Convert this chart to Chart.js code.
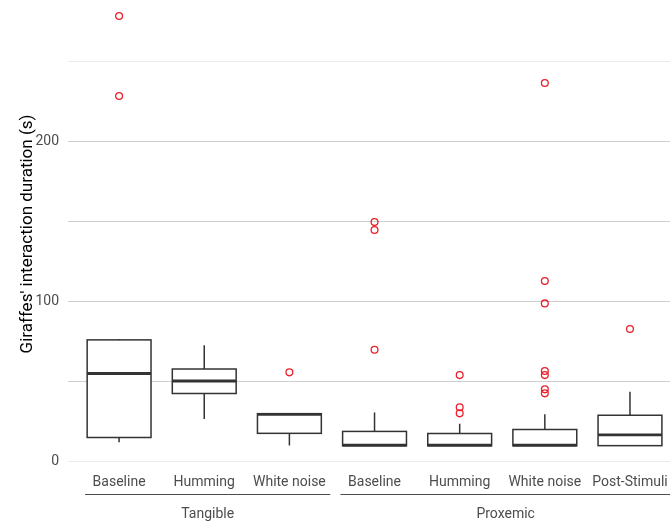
<!DOCTYPE html>
<html>
<head>
<meta charset="utf-8">
<script src="https://cdn.jsdelivr.net/npm/chart.js@4.4.1/dist/chart.umd.min.js"></script>
<style>
  html, body { margin: 0; padding: 0; background: #fff; }
  canvas { display: block; }
</style>
</head>
<body>
<canvas id="chart" width="670" height="525"></canvas>
<script>
// カテゴリとグループ
const categories = ['Baseline', 'Humming', 'White noise', 'Baseline', 'Humming', 'White noise', 'Post-Stimuli'];
const groupLabels = ['Tangible', 'Proxemic'];
const groupFirst = [0, 3];
const groupLast = [2, 6];

// 箱ひげ図の値
const whiskerLow = [12, 26.5, 10, 9.8, 9.8, 9.8, 9.9];
const q1 = [15, 42.5, 17.6, 9.8, 9.8, 9.8, 9.9];
const median = [55, 50.3, 29.5, 10.2, 10.2, 10.2, 16.7];
const q3 = [76, 57.8, 29.9, 18.8, 17.5, 20, 28.9];
const whiskerHigh = [76.5, 72.6, 29.9, 30.7, 23.6, 29.5, 43.6];
const outliers = [
  [228.4, 278.4],
  [],
  [55.7],
  [69.8, 144.7, 149.6],
  [30.1, 33.9, 54],
  [42.6, 45.1, 54, 56.6, 98.8, 112.8, 236.5],
  [82.8]
];

// 軸の目盛り
const yTicks = [0, 50, 100, 150, 200, 250];
const yTickLabels = ['0', '', '100', '', '200', ''];

const FONT = 'Roboto, "Liberation Sans", sans-serif';
const TEXT_GRAY = '#4d4d4d';

const outlierPoints = outliers.flatMap((vals, i) => vals.map(v => ({ x: i, y: v })));

// 箱とひげを描くプラグイン
const boxPlugin = {
  id: 'boxes',
  beforeDatasetsDraw(chart) {
    const { ctx, scales: { x, y } } = chart;
    const half = 0.375;
    ctx.save();
    ctx.strokeStyle = '#333333';
    categories.forEach((_, i) => {
      const xl = x.getPixelForValue(i - half);
      const xr = x.getPixelForValue(i + half);
      const xc = x.getPixelForValue(i);

      // ひげ
      ctx.lineWidth = 1.5;
      ctx.beginPath();
      ctx.moveTo(xc, y.getPixelForValue(q3[i]));
      ctx.lineTo(xc, y.getPixelForValue(whiskerHigh[i]));
      ctx.moveTo(xc, y.getPixelForValue(q1[i]));
      ctx.lineTo(xc, y.getPixelForValue(whiskerLow[i]));
      ctx.stroke();

      // 箱
      const yt = y.getPixelForValue(q3[i]);
      const yb = y.getPixelForValue(q1[i]);
      ctx.fillStyle = '#ffffff';
      ctx.fillRect(xl, yt, xr - xl, yb - yt);
      ctx.strokeRect(xl, yt, xr - xl, yb - yt);

      // 中央値
      ctx.lineWidth = 2.8;
      ctx.beginPath();
      ctx.moveTo(xl, y.getPixelForValue(median[i]));
      ctx.lineTo(xr, y.getPixelForValue(median[i]));
      ctx.stroke();
    });
    ctx.restore();
  },
  afterDraw(chart) {
    // グループの線とラベル
    const { ctx, scales: { x } } = chart;
    ctx.save();
    ctx.strokeStyle = TEXT_GRAY;
    ctx.lineWidth = 1.1;
    ctx.fillStyle = TEXT_GRAY;
    ctx.font = '14px ' + FONT;
    ctx.textAlign = 'center';
    ctx.textBaseline = 'middle';
    groupLabels.forEach((label, g) => {
      const x0 = x.getPixelForValue(groupFirst[g] - 0.4);
      const x1 = x.getPixelForValue(groupLast[g] + 0.48);
      ctx.beginPath();
      ctx.moveTo(x0, 494.5);
      ctx.lineTo(x1, 494.5);
      ctx.stroke();
      ctx.fillText(label, (x0 + x1) / 2, 514);
    });
    ctx.restore();
  }
};

new Chart(document.getElementById('chart'), {
  type: 'scatter',
  data: {
    datasets: [{
      data: outlierPoints,
      pointStyle: 'circle',
      pointRadius: 3.4,
      pointBorderWidth: 1.3,
      borderColor: '#e8202a',
      backgroundColor: 'rgba(0,0,0,0)'
    }]
  },
  options: {
    responsive: false,
    devicePixelRatio: 1,
    animation: { duration: 0 },
    layout: { padding: 0, autoPadding: false },
    plugins: {
      legend: { display: false },
      tooltip: { enabled: false }
    },
    scales: {
      x: {
        type: 'linear',
        min: -0.6,
        max: 6.47,
        grid: { display: false, drawTicks: false },
        border: { display: false },
        afterBuildTicks: (scale) => {
          scale.ticks = categories.map((_, i) => ({ value: i }));
        },
        afterFit: (scale) => {
          scale.height = 57;
          scale.paddingLeft = 0;
          scale.paddingRight = 0;
        },
        ticks: {
          autoSkip: false,
          maxRotation: 0,
          padding: 6,
          color: TEXT_GRAY,
          font: { family: FONT, size: 14 },
          callback: (v) => categories[v]
        }
      },
      y: {
        min: -4.06,
        max: 288.4,
        afterBuildTicks: (scale) => {
          scale.ticks = yTicks.map(v => ({ value: v }));
        },
        afterFit: (scale) => {
          scale.width = 68;
          scale.paddingTop = 0;
          scale.paddingBottom = 0;
        },
        grid: {
          drawTicks: false,
          color: (c) => (c.tick && (c.tick.value === 0 || c.tick.value === 250)) ? '#ebebeb' : '#cfcfcf',
          lineWidth: 1
        },
        border: { display: false },
        ticks: {
          padding: 9,
          color: TEXT_GRAY,
          font: { family: FONT, size: 14 },
          callback: (v) => yTickLabels[yTicks.indexOf(v)]
        },
        title: {
          display: true,
          text: "Giraffes' interaction duration (s)",
          color: '#000000',
          font: { family: FONT, size: 17 },
          padding: { top: 18, bottom: 0 }
        }
      }
    }
  },
  plugins: [boxPlugin]
});
</script>
</body>
</html>
